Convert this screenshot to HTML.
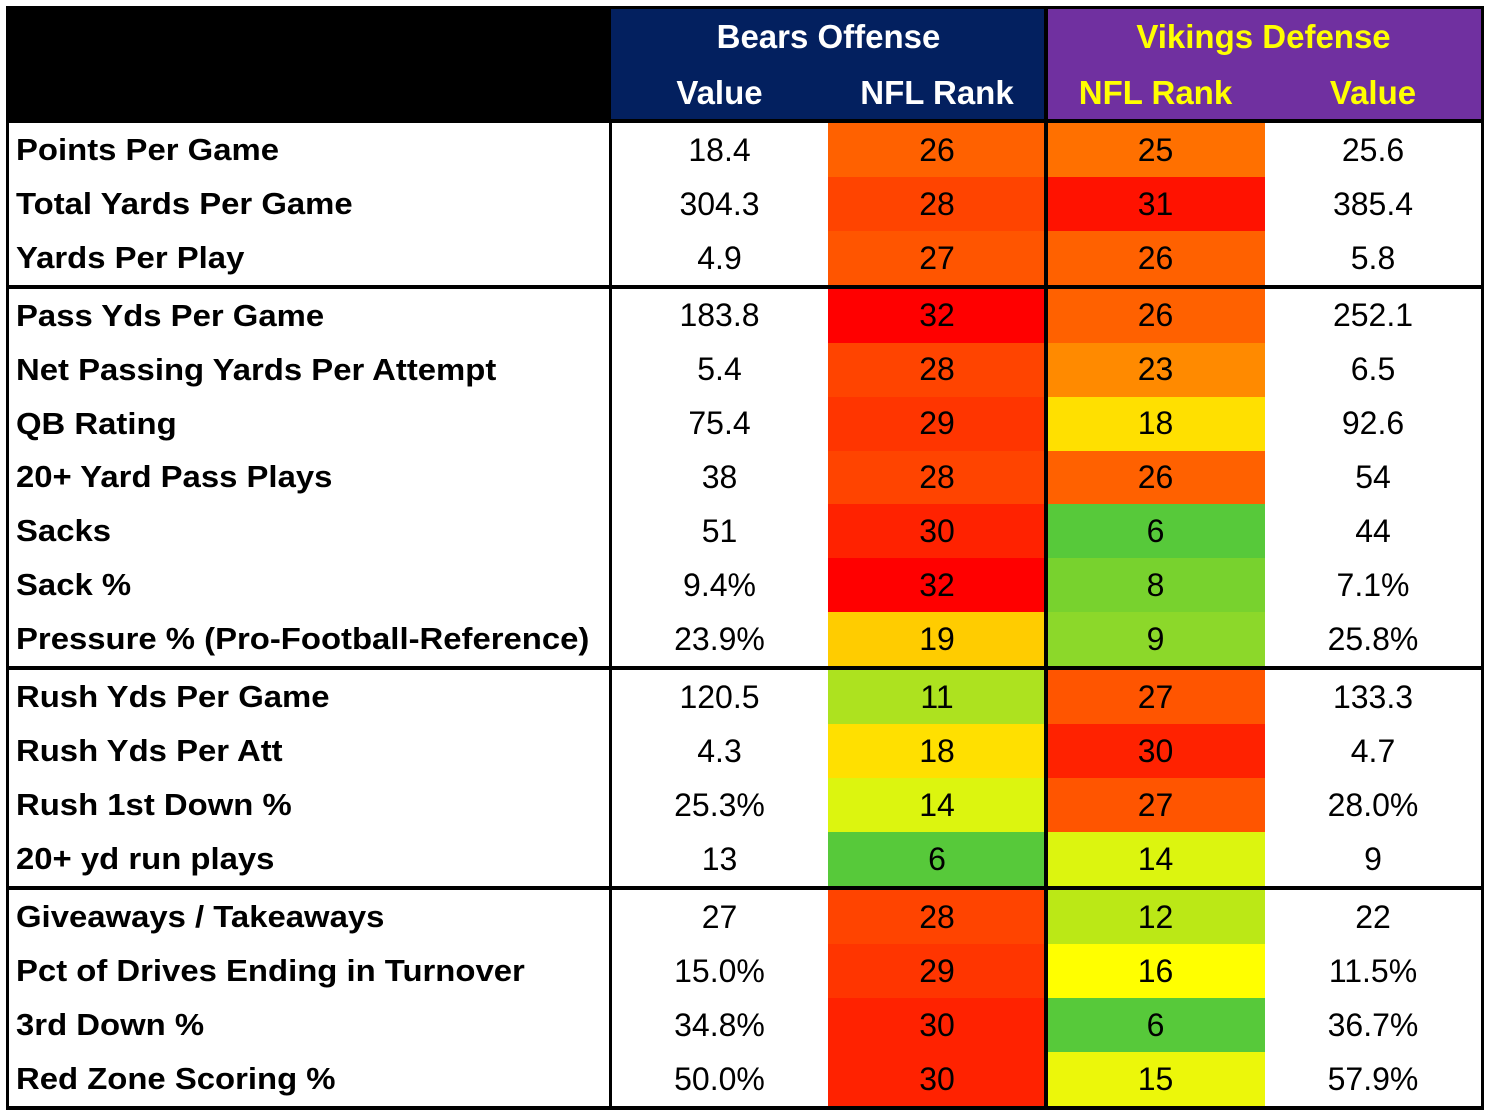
<!DOCTYPE html>
<html><head><meta charset="utf-8"><style>
body{margin:0;width:1490px;height:1118px;background:#fff;position:relative;overflow:hidden;font-family:"Liberation Sans",sans-serif}
.c{position:absolute;display:flex;align-items:center;justify-content:center;box-sizing:border-box;font-size:32px;color:#000}
.lab{justify-content:flex-start;font-weight:bold;font-size:31px;padding-left:8px}
.lab span{display:inline-block;transform:scaleX(1.06);transform-origin:left center;white-space:nowrap}
.h{font-weight:bold;font-size:33px}
.ln{position:absolute;background:#000}
</style></head><body>
<div id="root"></div>
<script>
const labels=["Points Per Game","Total Yards Per Game","Yards Per Play","Pass Yds Per Game","Net Passing Yards Per Attempt","QB Rating","20+ Yard Pass Plays","Sacks","Sack %","Pressure % (Pro-Football-Reference)","Rush Yds Per Game","Rush Yds Per Att","Rush 1st Down %","20+ yd run plays","Giveaways / Takeaways","Pct of Drives Ending in Turnover","3rd Down %","Red Zone Scoring %"];
const bearsValue=["18.4","304.3","4.9","183.8","5.4","75.4","38","51","9.4%","23.9%","120.5","4.3","25.3%","13","27","15.0%","34.8%","50.0%"];
const bearsRank=[26,28,27,32,28,29,28,30,32,19,11,18,14,6,28,29,30,30];
const vikingsRank=[25,31,26,26,23,18,26,6,8,9,27,30,27,14,12,16,6,15];
const vikingsValue=["25.6","385.4","5.8","252.1","6.5","92.6","54","44","7.1%","25.8%","133.3","4.7","28.0%","9","22","11.5%","36.7%","57.9%"];
const groups=[3,7,4,4];
const rankColors={6:"#57c93a",8:"#78d22e",9:"#8cd82a",11:"#ade21f",12:"#bbe816",14:"#dcf50f",15:"#ecf70a",16:"#ffff00",18:"#ffe000",19:"#ffcc00",23:"#ff8a00",25:"#ff7000",26:"#ff6100",27:"#ff5500",28:"#ff4400",29:"#ff3500",30:"#ff2200",31:"#ff1200",32:"#ff0000"};
const root=document.getElementById('root');
function box(x,y,w,h,cls,bg,txt,name){const d=document.createElement('div');d.className='c '+cls;
d.style.cssText=`left:${x}px;top:${y}px;width:${w}px;height:${h}px;`+(bg?`background:${bg};`:'');
if(cls.includes('lab')){const s=document.createElement('span');s.textContent=txt;d.appendChild(s);}else d.textContent=txt;


root.appendChild(d);return d;}
function line(x,y,w,h,name){const d=document.createElement('div');d.className='ln';d.style.cssText=`left:${x}px;top:${y}px;width:${w}px;height:${h}px`;


root.appendChild(d);}
const cols=[8,611,828,1046,1265,1481];
box(8,8,603,113,'','#000','','header-blank');
box(611,8,435,57,'h','#03205f','Bears Offense','bears-offense-title').style.color='#fff';
box(611,65,217,56,'h','#03205f','Value','bears-value-header').style.color='#fff';
box(828,65,218,56,'h','#03205f','NFL Rank','bears-rank-header').style.color='#fff';
box(1046,8,435,57,'h','#7030a0','Vikings Defense','vikings-defense-title').style.color='#ffff00';
box(1046,65,219,56,'h','#7030a0','NFL Rank','vikings-rank-header').style.color='#ffff00';
box(1265,65,216,56,'h','#7030a0','Value','vikings-value-header').style.color='#ffff00';
const bounds=[121,287,668,888,1108];
let r=0;
groups.forEach((n,g)=>{const y0=bounds[g]+2,y1=bounds[g+1]-2,rh=(y1-y0)/n;
for(let i=0;i<n;i++,r++){const y=y0+i*rh;
box(cols[0],y,cols[1]-cols[0],rh,'lab','',labels[r],'row-label');
box(cols[1],y,cols[2]-cols[1],rh,'','',bearsValue[r],'bears-value');
box(cols[2],y,cols[3]-cols[2],rh,'',rankColors[bearsRank[r]],String(bearsRank[r]),'bears-rank');
box(cols[3],y,cols[4]-cols[3],rh,'',rankColors[vikingsRank[r]],String(vikingsRank[r]),'vikings-rank');
box(cols[4],y,cols[5]-cols[4],rh,'','',vikingsValue[r],'vikings-value');}});
bounds.forEach(b=>line(6,b-2,1478,4,'group-divider'));
line(6,6,1478,3,'top-border');
line(6,6,3,1104,'left-border');line(1481,6,3,1104,'right-border');
line(609,121,3,989,'label-divider');line(1044,6,4,1104,'team-divider');
</script>
</body></html>
